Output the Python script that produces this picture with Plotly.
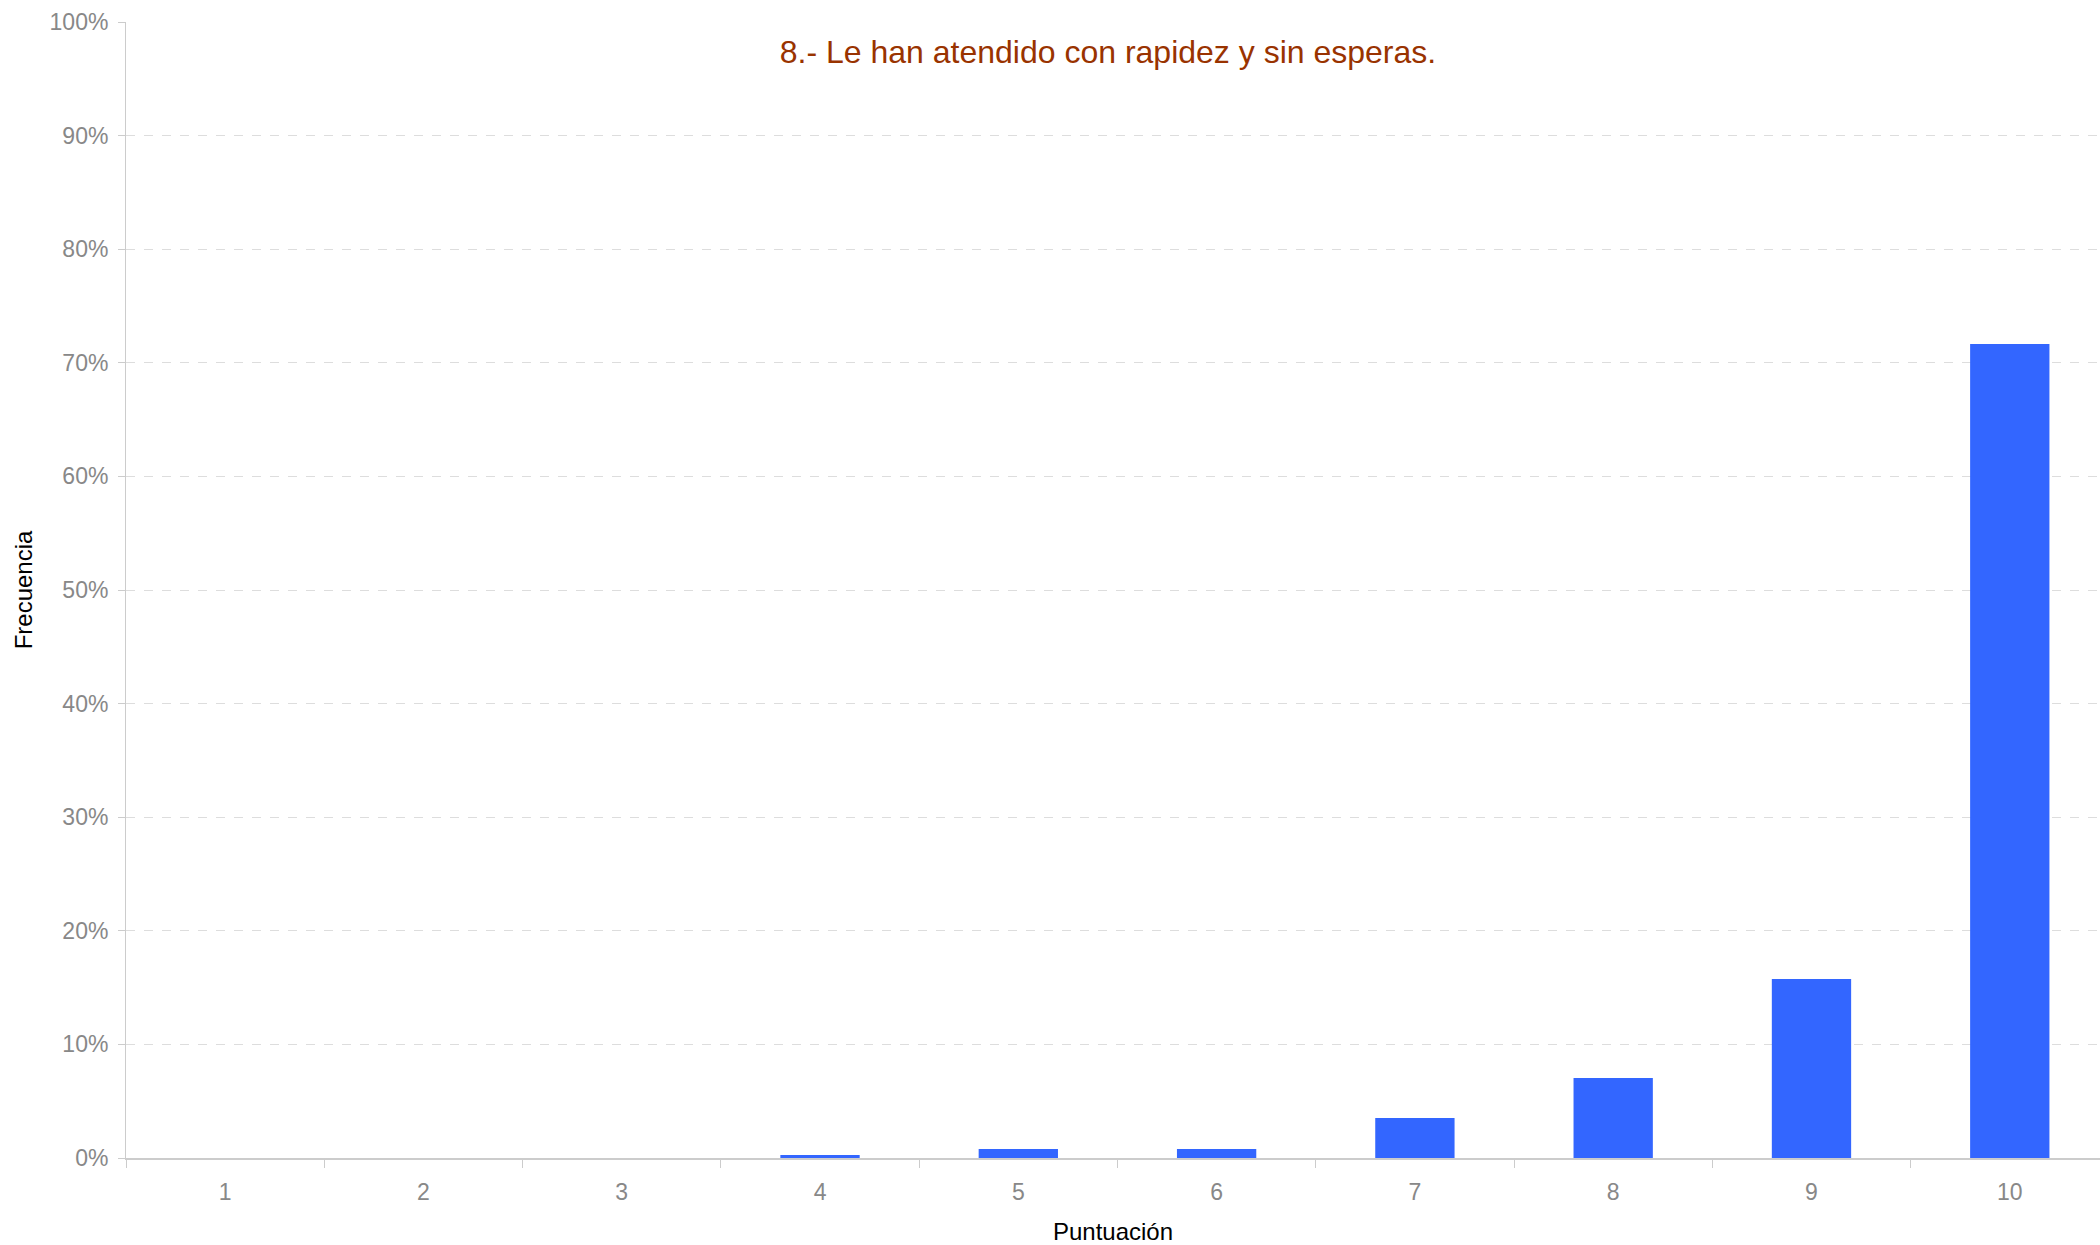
import plotly.graph_objects as go

# Scores 1..10 and share of answers for each one (percent)
puntuacion = ["1", "2", "3", "4", "5", "6", "7", "8", "9", "10"]
frecuencia = [0.0, 0.0, 0.0, 0.26, 0.79, 0.79, 3.52, 7.04, 15.76, 71.65]
y_ticks = [0, 10, 20, 30, 40, 50, 60, 70, 80, 90, 100]
y_tick_text = [f"{v}%" for v in y_ticks]

titulo = "8.- Le han atendido con rapidez y sin esperas."
FONT = "Arial, Liberation Sans, sans-serif"

fig = go.Figure(
    go.Bar(
        x=puntuacion,
        y=frecuencia,
        marker=dict(color="#3366FF", line=dict(width=0)),
        width=0.4,
        hoverinfo="x+y",
    )
)

fig.update_layout(
    width=2100,
    height=1245,
    paper_bgcolor="white",
    plot_bgcolor="white",
    margin=dict(l=126, r=0, t=22, b=87, autoexpand=False),
    showlegend=False,
    font=dict(family=FONT),
    title=dict(
        text=titulo,
        font=dict(family=FONT, size=32, color="#993300"),
        x=0.5276,
        xanchor="center",
        xref="container",
        y=1 - 52 / 1245,
        yanchor="middle",
        yref="container",
    ),
)

fig.update_xaxes(
    type="category",
    range=[-0.5, 9.455],
    showline=True,
    linecolor="#cccccc",
    linewidth=2,
    tickson="boundaries",
    ticks="outside",
    ticklen=8,
    tickcolor="#cccccc",
    tickwidth=1,
    showgrid=False,
    ticklabelstandoff=12,
    tickfont=dict(family=FONT, size=23, color="#888888"),
    title=dict(text="Puntuación", font=dict(family=FONT, size=24, color="#000000"), standoff=21),
)

fig.update_yaxes(
    range=[0, 100],
    tickvals=y_ticks,
    ticktext=y_tick_text,
    showline=True,
    linecolor="#cccccc",
    linewidth=1,
    ticks="outside",
    ticklen=7,
    tickcolor="#cccccc",
    showgrid=True,
    gridcolor="#dddddd",
    griddash="dash",
    gridwidth=1,
    zeroline=False,
    ticklabelstandoff=5,
    tickfont=dict(family=FONT, size=23, color="#888888"),
    title=dict(text="Frecuencia", font=dict(family=FONT, size=24, color="#000000"), standoff=10),
)

fig.write_html("out.html")
